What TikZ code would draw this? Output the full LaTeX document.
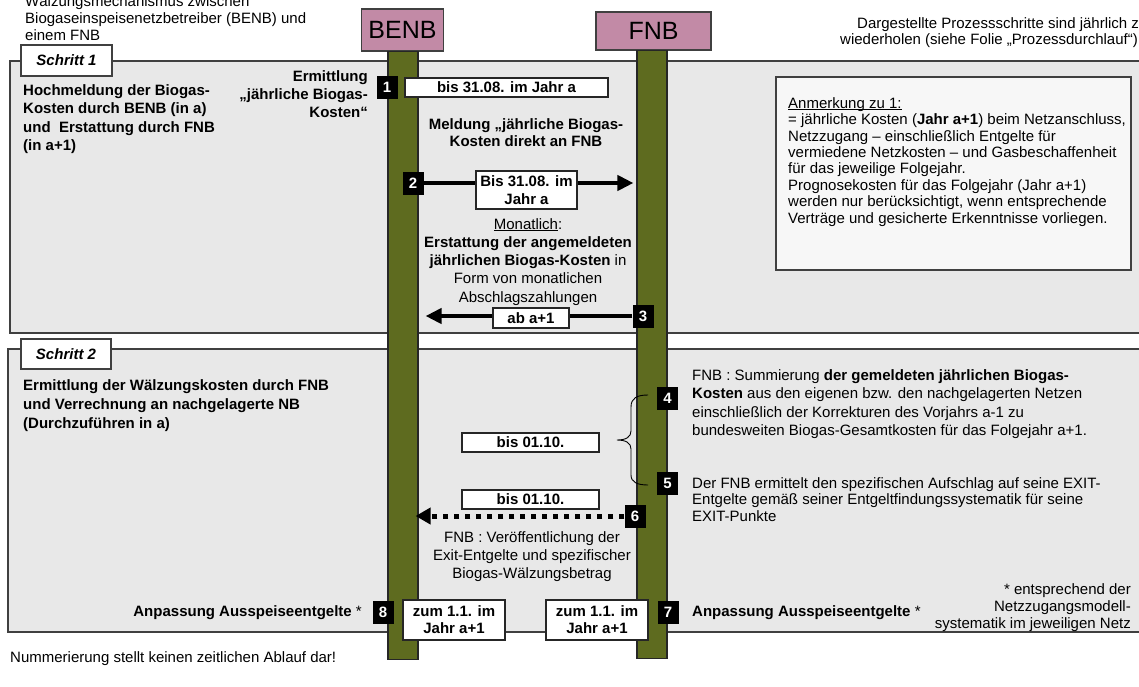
\documentclass[tikz,border=0pt]{standalone}
\usepackage{fontspec}
\setmainfont{Liberation Sans}
\usetikzlibrary{arrows.meta}
\definecolor{panelgray}{RGB}{232,232,232}
\definecolor{notegray}{RGB}{247,247,247}
\definecolor{mauve}{RGB}{194,138,166}
\definecolor{olivebar}{RGB}{94,107,31}
\definecolor{edgegray}{RGB}{64,64,64}
\newcommand{\myfs}[1]{\fontsize{15}{#1}\selectfont}
\begin{document}
\begin{tikzpicture}[x=1pt,y=-1pt,
  every node/.style={inner sep=0pt, font=\myfs{18}},
  panel/.style={draw=edgegray, fill=panelgray, line width=1.3pt},
  steplabel/.style={draw=edgegray, fill=white, line width=1.1pt, font=\myfs{18}\bfseries\itshape, minimum width=91pt, minimum height=31pt},
  hdr/.style={draw=edgegray, fill=mauve, line width=1.1pt, font=\fontsize{25}{30}\selectfont},
  lifebar/.style={draw=black!85, fill=olivebar, line width=1.1pt, minimum width=30pt, minimum height=608pt},
  numbox/.style={fill=black, text=white, font=\myfs{18}\bfseries, minimum width=21pt, minimum height=23pt},
  datebox/.style={draw=black!85, fill=white, line width=1.1pt, font=\myfs{17.5}\bfseries, align=center},
  txt/.style={align=left},
  msg/.style={line width=4pt, -{Triangle[length=16pt,width=15pt]}},
  dotmsg/.style={line width=5pt, dash pattern=on 5pt off 6pt, -{Triangle[length=15pt,width=16pt]}},
]
\useasboundingbox (0,0) rectangle (1139,686);

% panels
\draw[panel] (10,61) rectangle (1150,333);
\draw[panel] (8,349) rectangle (1150,632);
\node[steplabel] (s1) at (66.5,60.5) {Schritt 1};
\node[steplabel, minimum width=90pt, minimum height=30pt] (s2) at (66,354) {Schritt 2};
\node[draw=edgegray, fill=notegray, line width=1.1pt, minimum width=355pt, minimum height=193pt] (note) at (953.5,173.5) {};

% headers and lifelines
\node[hdr, minimum width=82pt, minimum height=42pt] (benb) at (402.5,30) {BENB};
\node[hdr, minimum width=115pt, minimum height=38pt] (fnb) at (653.5,31) {FNB};
\node[lifebar, anchor=north] (benbbar) at (403,51) {};
\node[lifebar, anchor=north] (fnbbar) at (652,50) {};

% texts (base anchor = baseline of the last line)
\node[txt, anchor=base west, font=\myfs{17}] (title) at (25,40) {Wälzungsmechanismus zwischen\\Biogaseinspeisenetzbetreiber (BENB) und\\einem FNB};
\node[anchor=base west] (rep1) at (857,28) {Dargestellte Prozessschritte sind jährlich zu};
\node[anchor=base west] (rep2) at (840,44) {wiederholen (siehe Folie „Prozessdurchlauf“)};

\node[txt, anchor=base west, font=\myfs{18.5}\bfseries] (s1text) at (23,150.5) {Hochmeldung der Biogas-\\Kosten durch BENB (in a)\\und~ Erstattung durch FNB\\(in a+1)};
\node[align=right, anchor=base east, font=\myfs{18}\bfseries] (ermtext) at (368,117) {Ermittlung\\„jährliche Biogas-\\Kosten“};
\node[align=center, anchor=base, font=\myfs{17}\bfseries] (meldtext) at (526,146) {Meldung „jährliche Biogas-\\Kosten direkt an FNB};
\node[align=center, anchor=base, font=\myfs{18.25}] (montext) at (528,302) {\underline{Monatlich}:\\\textbf{Erstattung der angemeldeten}\\\textbf{jährlichen Biogas-Kosten} in\\Form von monatlichen\\Abschlagszahlungen};
\node[txt, anchor=base west, font=\myfs{16.4}] (notetext) at (788,223) {\underline{\smash{Anmerkung zu 1:}}\\= jährliche Kosten (\textbf{Jahr a+1}) beim Netzanschluss,\\Netzzugang – einschließlich Entgelte für\\vermiedene Netzkosten – und Gasbeschaffenheit\\für das jeweilige Folgejahr.\\Prognosekosten für das Folgejahr (Jahr a+1)\\werden nur berücksichtigt, wenn entsprechende\\Verträge und gesicherte Erkenntnisse vorliegen.};

\node[txt, anchor=base west, font=\myfs{19}\bfseries] (s2text) at (23,428) {Ermittlung der Wälzungskosten durch FNB\\und Verrechnung an nachgelagerte NB\\(Durchzuführen in a)};
\node[txt, anchor=base west, font=\myfs{18.5}] (t4) at (692,435.5) {FNB : Summierung \textbf{der gemeldeten jährlichen Biogas-}\\\textbf{Kosten} aus den eigenen bzw. den nachgelagerten Netzen\\einschließlich der Korrekturen des Vorjahrs a-1 zu\\bundesweiten Biogas-Gesamtkosten für das Folgejahr a+1.};
\node[txt, anchor=base west, font=\myfs{16.5}] (t5) at (692,521) {Der FNB ermittelt den spezifischen Aufschlag auf seine EXIT-\\Entgelte gemäß seiner Entgeltfindungssystematik für seine\\EXIT-Punkte};
\node[align=center, anchor=base, font=\myfs{18}] (t6) at (532,578) {FNB : Veröffentlichung der\\Exit-Entgelte und spezifischer\\Biogas-Wälzungsbetrag};

\node[anchor=base east] (anp8) at (362,616) {\textbf{Anpassung Ausspeiseentgelte} *};
\node[anchor=base west] (anp7) at (692,616) {\textbf{Anpassung Ausspeiseentgelte} *};
\node[align=right, anchor=base east, font=\myfs{17}] (foot) at (1131,628) {* entsprechend der\\Netzzugangsmodell-\\systematik im jeweiligen Netz};
\node[anchor=base west] (numnote) at (10,662) {Nummerierung stellt keinen zeitlichen Ablauf dar!};

% number boxes
\node[numbox] (n1) at (387,87) {1};
\node[numbox] (n2) at (413,183) {2};
\node[numbox] (n3) at (643,316) {3};
\node[numbox] (n4) at (667.5,398) {4};
\node[numbox] (n5) at (667.5,483.5) {5};
\node[numbox] (n6) at (635,516) {6};
\node[numbox] (n7) at (668,612) {7};
\node[numbox] (n8) at (383,612) {8};

% arrows
\draw[msg] (n2.east) -- ([xshift=-3pt]n2.east -| fnbbar.west);
\draw[msg] (n3.west) -- ([xshift=7pt]n3.west -| benbbar.east);
\draw[dotmsg] (n6.west) -- ([xshift=-3pt]n6.west -| benbbar.east);

% brace
\draw[line width=0.9pt] (648,395) .. controls (637,395) and (631,398) .. (631,407) -- (631,431) .. controls (631,437) and (626,440) .. (617,440) .. controls (626,440) and (631,443) .. (631,449) -- (631,475) .. controls (631,482) and (637,485) .. (648,485);

% date boxes
\node[datebox, minimum width=203pt, minimum height=19pt] (d1) at (506.5,87.5) {bis 31.08. im Jahr a};
\node[datebox, minimum width=101pt, minimum height=38pt] (d2) at (526.5,190) {Bis 31.08. im\\Jahr a};
\node[datebox, minimum width=76pt, minimum height=20pt] (d3) at (531,318) {ab a+1};
\node[datebox, minimum width=137pt, minimum height=19pt] (d4) at (530.5,442.5) {bis 01.10.};
\node[datebox, minimum width=137pt, minimum height=19pt] (d5) at (530.5,499.5) {bis 01.10.};
\node[datebox, minimum width=102pt, minimum height=40pt, font=\myfs{17}\bfseries] (d8) at (454,620) {zum 1.1. im\\Jahr a+1};
\node[datebox, minimum width=102pt, minimum height=40pt, font=\myfs{17}\bfseries] (d7) at (597,620) {zum 1.1. im\\Jahr a+1};
\end{tikzpicture}
\end{document}
